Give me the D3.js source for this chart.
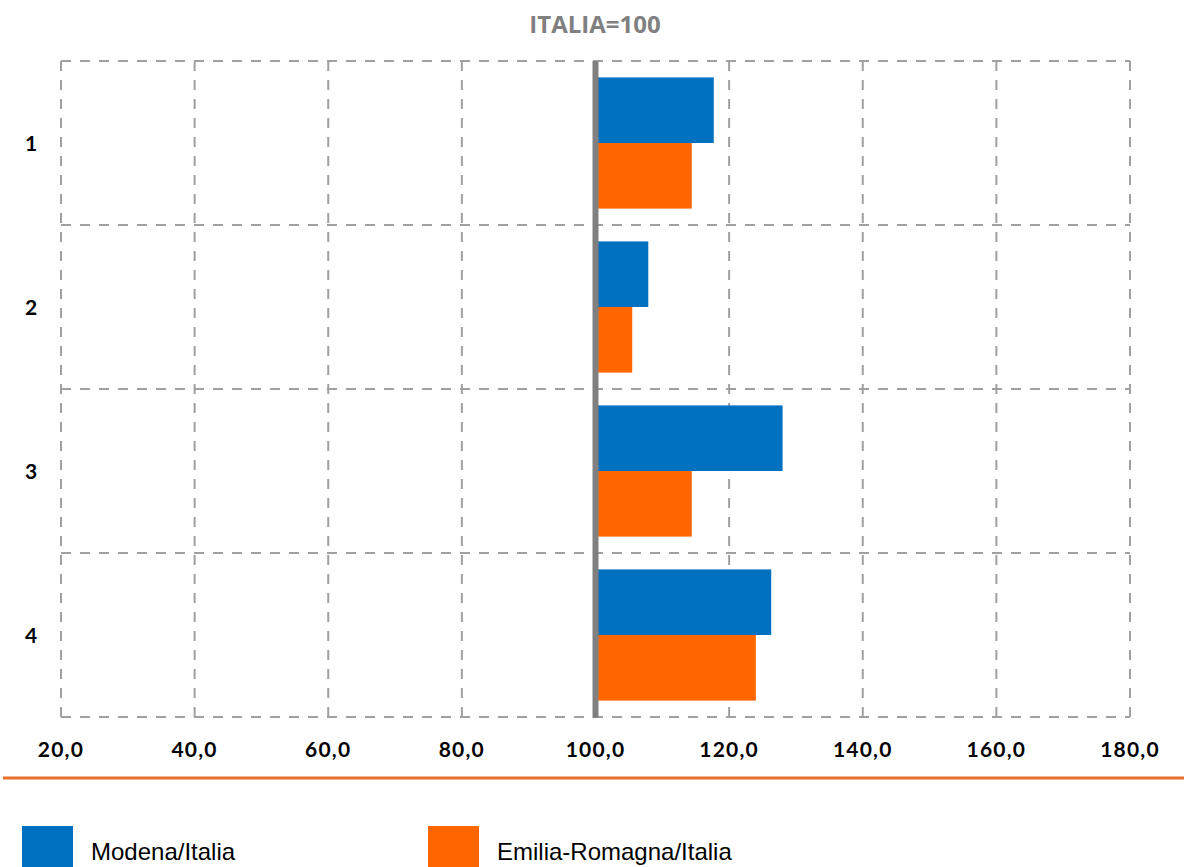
<!DOCTYPE html>
<html><head><meta charset="utf-8">
<script src="https://cdn.jsdelivr.net/npm/d3@7"></script>
<style>body{margin:0;background:#fff}svg{display:block}</style>
</head><body>
<svg id="c" width="1184" height="867"></svg>
<script>
const categories = ["1","2","3","4"];
const seriesNames = ["Modena/Italia","Emilia-Romagna/Italia"];
const modena = [117.7, 107.9, 128.0, 126.3];
const emilia = [114.4, 105.5, 114.4, 124.0];
const xTicks = [20,40,60,80,100,120,140,160,180];
const colors = ["#0070C0","#FF6600"];
const title = "ITALIA=100";

const svg = d3.select("#c");
const x = d3.scaleLinear().domain([20,180]).range([61,1130]);
const y = d3.scaleBand().domain(categories).range([61,717]).paddingInner(0).paddingOuter(0);
const y1 = d3.scaleBand().domain(seriesNames).range([0,y.bandwidth()]).paddingInner(0).paddingOuter(0.25);
const gridColor = "#a0a0a0";
const dash = "10,9";

// vertical grid
svg.append("g").selectAll("line").data(xTicks).join("line")
  .attr("x1",d=>x(d)).attr("x2",d=>x(d)).attr("y1",61).attr("y2",722)
  .attr("stroke",gridColor).attr("stroke-width",2).attr("stroke-dasharray",dash);
// horizontal grid
const hLines = categories.map(c=>y(c)).concat([y.range()[1]]);
svg.append("g").selectAll("line").data(hLines).join("line")
  .attr("x1",x(20)).attr("x2",x(180)).attr("y1",d=>d).attr("y2",d=>d)
  .attr("stroke",gridColor).attr("stroke-width",2).attr("stroke-dasharray",dash);

// bars
const data = [];
categories.forEach((c,i)=>{
  data.push({c, s:seriesNames[0], v:modena[i], col:colors[0]});
  data.push({c, s:seriesNames[1], v:emilia[i], col:colors[1]});
});
svg.append("g").selectAll("rect").data(data).join("rect")
  .attr("x",x(100)).attr("width",d=>x(d.v)-x(100))
  .attr("y",d=>y(d.c)+y1(d.s)).attr("height",y1.bandwidth())
  .attr("fill",d=>d.col);

// baseline at 100
svg.append("line").attr("x1",x(100)).attr("x2",x(100)).attr("y1",61).attr("y2",718)
  .attr("stroke","#808080").attr("stroke-width",6);

// x tick labels
svg.append("g").selectAll("text").data(xTicks).join("text")
  .attr("x",d=>x(d)).attr("y",757).attr("text-anchor","middle")
  .attr("font-family","Lato, 'Open Sans', sans-serif").attr("font-weight","bold").attr("font-size",21)
  .attr("letter-spacing","1.2px")
  .attr("fill","#000").text(d=>d3.format(".1f")(d).replace(".",","));

// category labels
svg.append("g").selectAll("text").data(categories).join("text")
  .attr("x",31).attr("y",d=>y(d)+y.bandwidth()/2+8).attr("text-anchor","middle")
  .attr("font-family","Lato, 'Open Sans', sans-serif").attr("font-weight","bold").attr("font-size",21)
  .attr("fill","#000").text(d=>d);

// title
svg.append("text").attr("x",595).attr("y",33).attr("text-anchor","middle")
  .attr("font-family","'Open Sans', Lato, sans-serif").attr("font-weight","bold").attr("font-size",24)
  .attr("fill","#808080").text(title);

// orange separator
svg.append("line").attr("x1",3).attr("x2",1184).attr("y1",778).attr("y2",778)
  .attr("stroke","#E8702A").attr("stroke-width",3);

// legend
const legX = [22, 428];
const leg = svg.append("g").selectAll("g").data(seriesNames).join("g")
  .attr("transform",(d,i)=>`translate(${legX[i]},826)`);
leg.append("rect").attr("width",51).attr("height",45).attr("fill",(d,i)=>colors[i]);
leg.append("text").attr("x",69).attr("y",34)
  .attr("font-family","'Liberation Sans Narrow', 'Liberation Sans', Arial, sans-serif").attr("font-size",24)
  .attr("fill","#000").text(d=>d);
</script>
</body></html>
